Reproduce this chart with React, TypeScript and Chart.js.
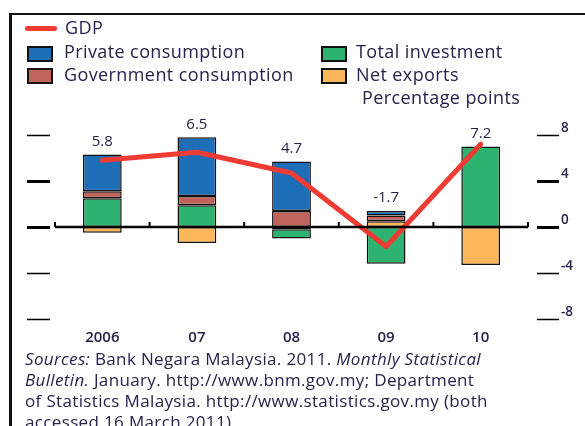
import React, { useEffect, useRef } from "react";
import { Chart, registerables } from "chart.js";

Chart.register(...registerables);

const categories = ["2006", "07", "08", "09", "10"];
const gdp = [5.8, 6.5, 4.7, -1.7, 7.2];
const gdpLabels = ["5.8", "6.5", "4.7", "-1.7", "7.2"];
const privateConsumption = [3.2, 5.1, 4.3, 0.4, null];
const governmentConsumption = [0.6, 0.8, 1.4, 0.5, null];
const totalInvestment = [2.5, 1.9, -0.8, -3.2, 7.0];
const netExports = [-0.5, -1.4, -0.2, 0.5, -3.3];
const yTicks = [8, 4, 0, -4, -8];

const TEXT = "#25244a";
const FONT = "'Open Sans', 'DejaVu Sans', sans-serif";

const axisPlugin = {
  id: "customAxes",
  afterDatasetsDraw(chart: any) {
    const { ctx, chartArea, scales } = chart;
    const y = scales.y;
    const x = scales.x;
    const y0 = y.getPixelForValue(0);
    ctx.save();
    yTicks.forEach((t) => {
      const py = Math.round(y.getPixelForValue(t)) + 0.5;
      const thick = t === 0 || t === 4;
      ctx.strokeStyle = "#000";
      ctx.lineWidth = thick ? 3 : 1.6;
      ctx.beginPath();
      ctx.moveTo(27, py);
      ctx.lineTo(50, py);
      ctx.moveTo(537, py);
      ctx.lineTo(559, py);
      ctx.stroke();
      ctx.fillStyle = TEXT;
      ctx.font = `600 13.5px ${FONT}`;
      ctx.textAlign = "left";
      ctx.textBaseline = "middle";
      ctx.fillText(String(t), 561, py - 7);
    });
    const n = categories.length;
    const step = (chartArea.right - chartArea.left) / n;
    ctx.lineWidth = 2;
    ctx.beginPath();
    for (let i = 0; i <= n; i++) {
      const px = chartArea.left + step * i;
      ctx.moveTo(px, y0);
      ctx.lineTo(px, y0 - 5);
    }
    ctx.stroke();
    ctx.lineWidth = 2.5;
    ctx.beginPath();
    ctx.moveTo(chartArea.left, y0);
    ctx.lineTo(chartArea.right, y0);
    ctx.stroke();
    ctx.fillStyle = TEXT;
    ctx.font = `600 15px ${FONT}`;
    ctx.textAlign = "center";
    ctx.textBaseline = "middle";
    categories.forEach((c, i) => {
      ctx.fillText(c, x.getPixelForValue(i), 338);
    });
    ctx.font = `15px ${FONT}`;
    categories.forEach((_, i) => {
      const pos = [privateConsumption[i], governmentConsumption[i], totalInvestment[i], netExports[i]]
        .reduce((s: number, v) => s + (v && v > 0 ? v : 0), 0);
      const top = y.getPixelForValue(pos);
      ctx.fillText(gdpLabels[i], x.getPixelForValue(i), top - 13);
    });
    ctx.restore();
  },
};

export default function App() {
  const ref = useRef<HTMLCanvasElement | null>(null);
  useEffect(() => {
    if (!ref.current) return;
    const barCommon = {
      type: "bar" as const,
      stack: "comp",
      borderColor: "#111",
      borderWidth: 1.5,
      borderSkipped: false,
      categoryPercentage: 1,
      barPercentage: 0.41,
    };
    const chart = new Chart(ref.current, {
      type: "bar",
      data: {
        labels: categories,
        datasets: [
          {
            type: "line",
            label: "GDP",
            data: gdp,
            stack: "gdp",
            borderColor: "#ee3b33",
            borderWidth: 5,
            pointRadius: 0,
            tension: 0,
            borderCapStyle: "round",
            borderJoinStyle: "round",
          } as any,
          { ...barCommon, label: "Net exports", data: netExports, backgroundColor: "#fdb75b" },
          { ...barCommon, label: "Total investment", data: totalInvestment, backgroundColor: "#2db26f" },
          { ...barCommon, label: "Government consumption", data: governmentConsumption, backgroundColor: "#c0635a" },
          { ...barCommon, label: "Private consumption", data: privateConsumption, backgroundColor: "#1e6db7" },
        ],
      },
      options: {
        animation: false,
        responsive: false,
        maintainAspectRatio: false,
        layout: { padding: { left: 55, right: 57, top: 135, bottom: 107 } },
        plugins: { legend: { display: false }, tooltip: { enabled: false } },
        scales: {
          x: { display: false, stacked: true, offset: true },
          y: { display: false, stacked: true, min: -8, max: 8 },
        },
      },
      plugins: [axisPlugin],
    });
    return () => chart.destroy();
  }, []);

  const legendText: React.CSSProperties = {
    position: "absolute",
    fontFamily: FONT,
    fontSize: 18,
    letterSpacing: "0.4px",
    color: TEXT,
    lineHeight: "20px",
    whiteSpace: "nowrap",
  };
  const box = (bg: string, left: number, top: number): React.CSSProperties => ({
    position: "absolute",
    left,
    top,
    width: 22,
    height: 12,
    background: bg,
    border: "2px solid #111",
  });

  return (
    <div style={{ position: "fixed", left: 0, top: 0, width: 585, height: 426, background: "#fff", overflow: "hidden" }}>
      <canvas ref={ref} width={585} height={426} style={{ position: "absolute", left: 0, top: 0 }} />
      <div style={{ position: "absolute", left: 9, top: 13, width: 3, height: 420, background: "#111" }} />
      <div style={{ position: "absolute", left: 9, top: 13, width: 580, height: 2, background: "#111" }} />
      <div style={{ position: "absolute", left: 25, top: 26, width: 32, height: 5, borderRadius: 3, background: "#ee3b33" }} />
      <div style={{ ...legendText, left: 65, top: 17 }}>GDP</div>
      <div style={box("#1e6db7", 27, 46)} />
      <div style={{ ...legendText, left: 64, top: 41 }}>Private consumption</div>
      <div style={box("#c0635a", 27, 68)} />
      <div style={{ ...legendText, left: 64, top: 64 }}>Government consumption</div>
      <div style={box("#2db26f", 321, 46)} />
      <div style={{ ...legendText, left: 356, top: 41 }}>Total investment</div>
      <div style={box("#fdb75b", 321, 68)} />
      <div style={{ ...legendText, left: 356, top: 64 }}>Net exports</div>
      <div style={{ ...legendText, left: 362, top: 87 }}>Percentage points</div>
      <div
        style={{
          position: "absolute",
          left: 25,
          top: 348,
          fontFamily: FONT,
          fontSize: 17,
          letterSpacing: "0.35px",
          lineHeight: "21px",
          color: TEXT,
          whiteSpace: "nowrap",
        }}
      >
        <i>Sources:</i> Bank Negara Malaysia. 2011. <i>Monthly Statistical</i>
        <br />
        <i>Bulletin.</i> January. http://www.bnm.gov.my; Department
        <br />
        of Statistics Malaysia. http://www.statistics.gov.my (both
        <br />
        accessed 16 March 2011).
      </div>
    </div>
  );
}
